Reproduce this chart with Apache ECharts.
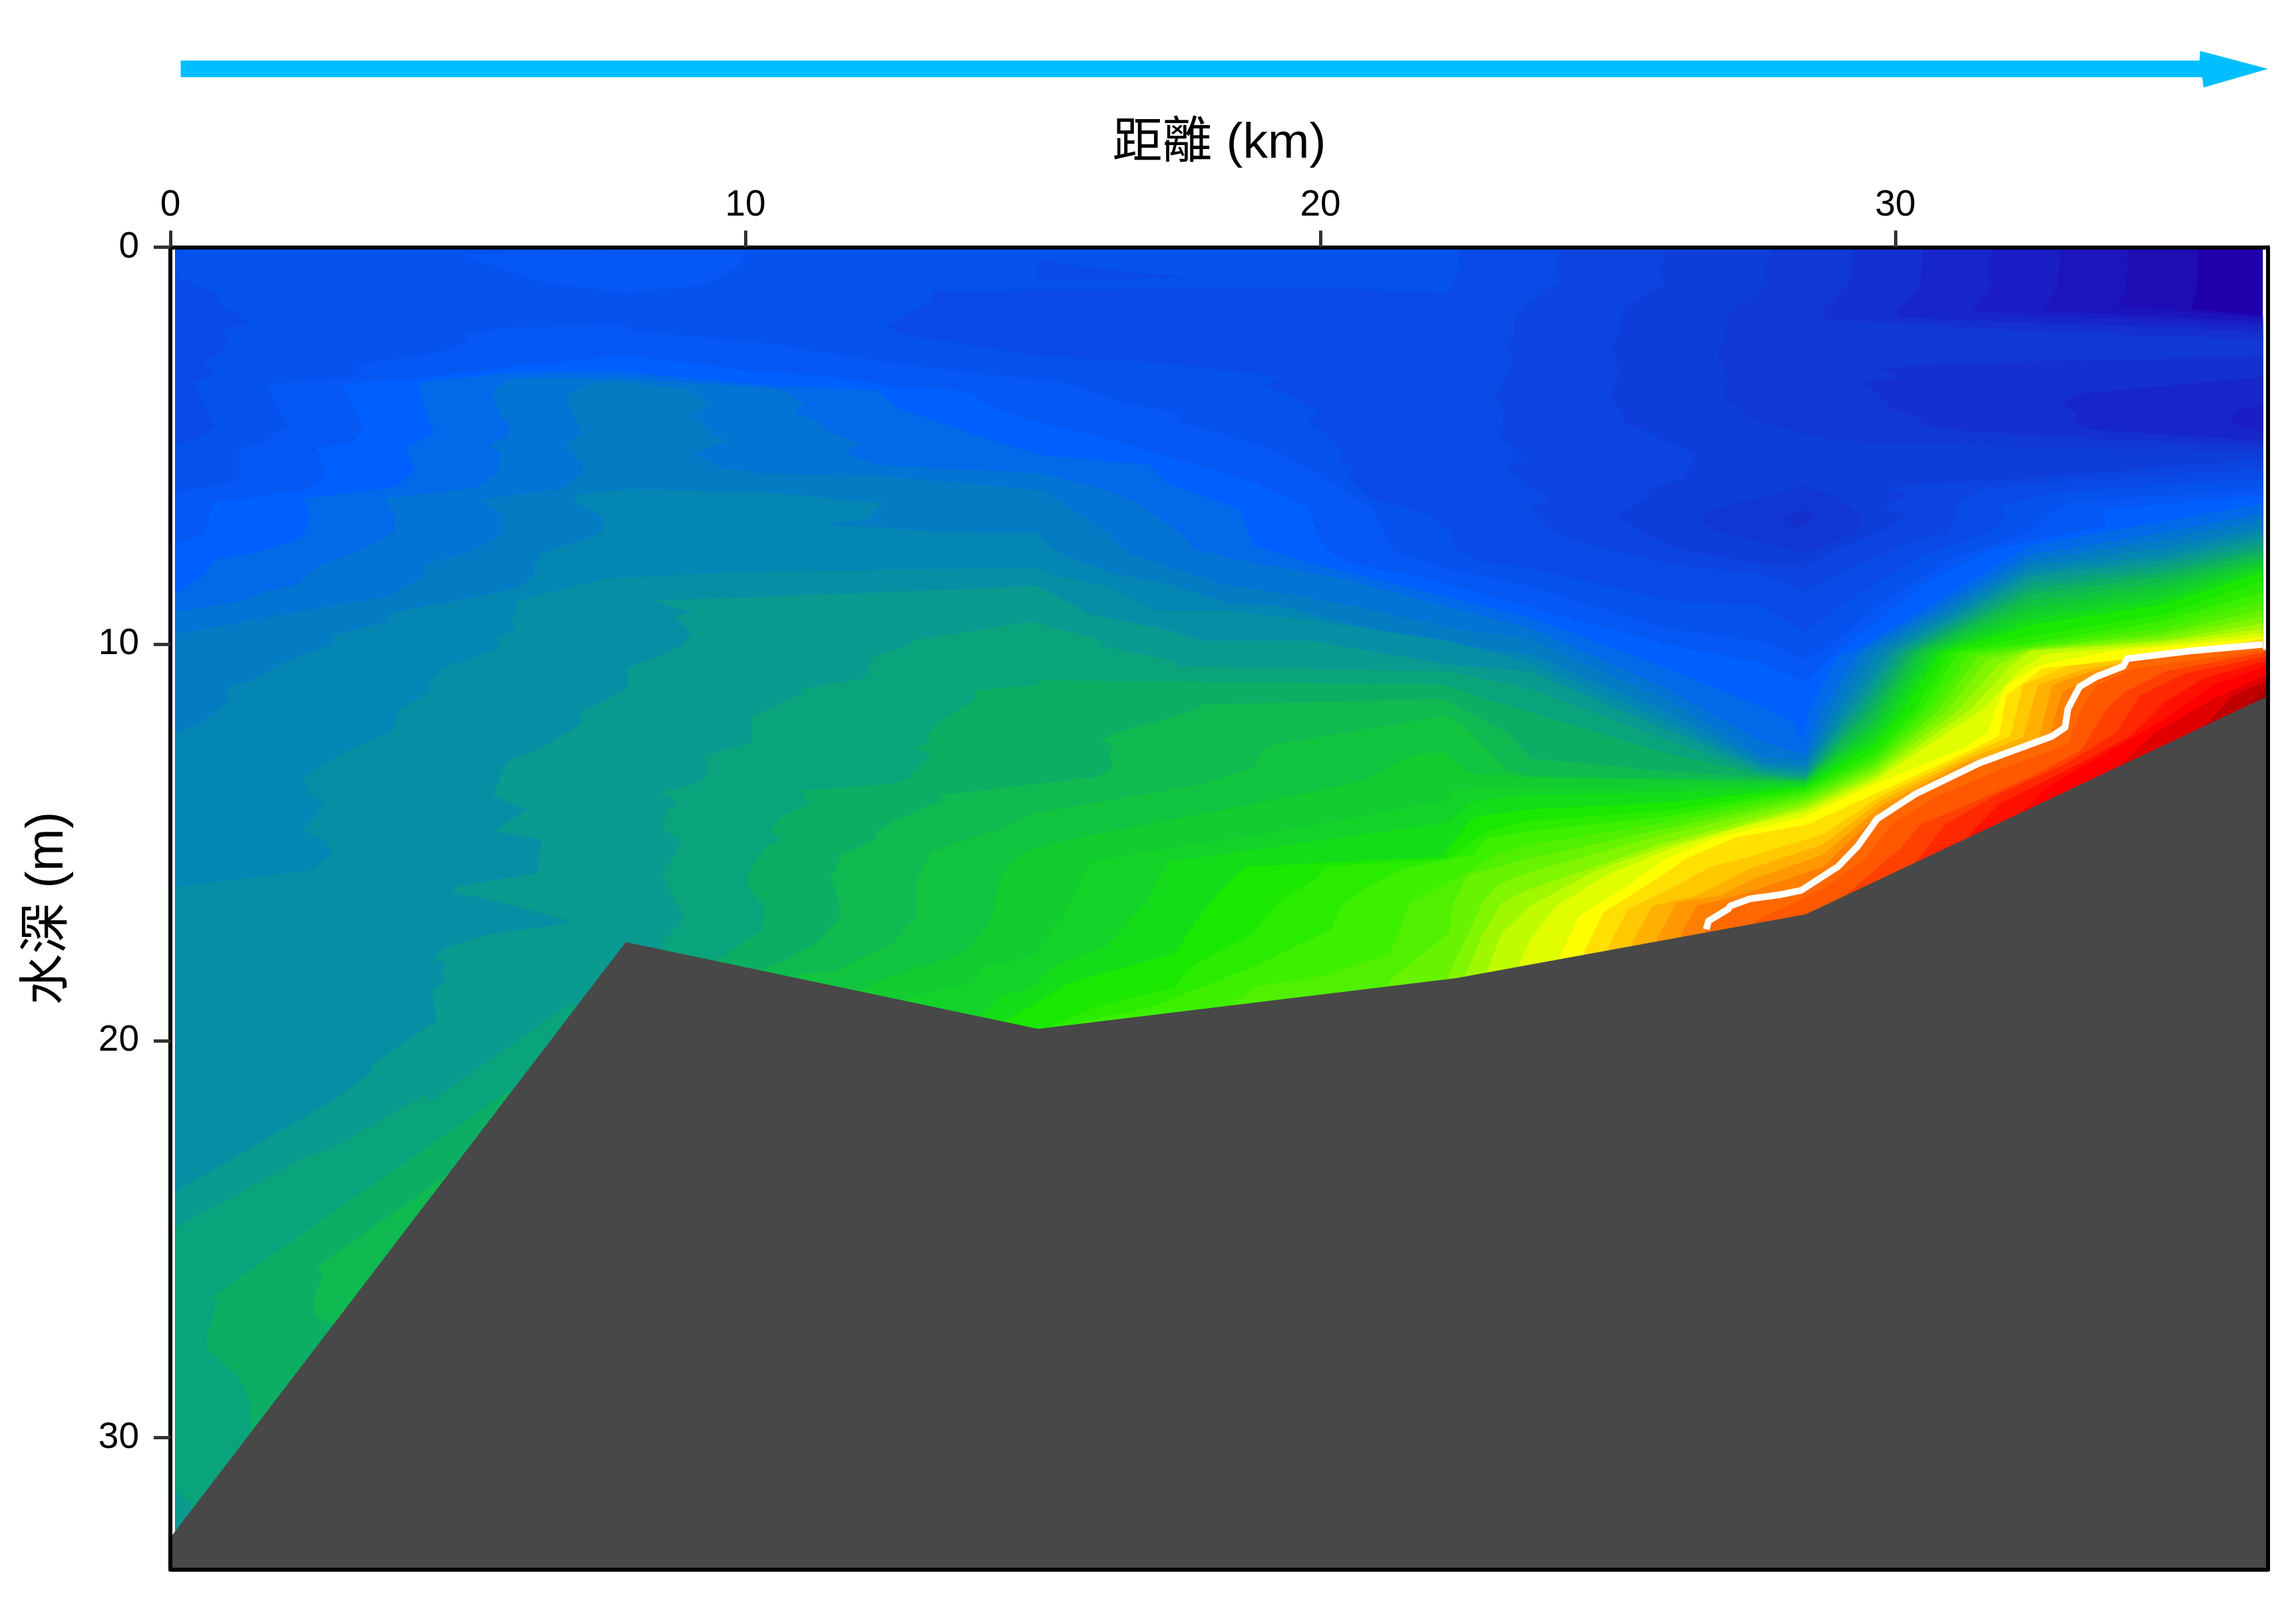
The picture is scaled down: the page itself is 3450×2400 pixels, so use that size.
<!DOCTYPE html>
<html>
<head>
<meta charset="utf-8">
<title>距離 水深</title>
<script src="https://cdn.jsdelivr.net/npm/echarts@6/dist/echarts.min.js"></script>
<style>
html, body { margin: 0; padding: 0; background: #ffffff; }
#main { width: 3450px; height: 2400px; }
</style>
</head>
<body>
<div id="main"></div>
<script>
var kmTicks = [ 0, 10, 20, 30 ];
var depthTicks = [ 0, 10, 20, 30 ];
var kmMax = 36.48;
var depthMax = 33.32;
var fillLeft = 0.09;
var fillRight = 36.39;

// sea floor outline, km / m
var seaFloor = [ [0,32.52],[7.92,17.51],[15.09,19.7],[22.36,18.42],[28.44,16.81],[36.48,11.31] ];
// white contour over the red water
var whiteLine = [ [26.71,17.19],[26.75,16.98],[27.09,16.68],[27.13,16.6],[27.47,16.42],[27.98,16.32],[28.36,16.21],[29.0,15.61],[29.34,15.1],[29.68,14.41],[30.36,13.77],[31.46,13.0],[32.73,12.32],[32.95,12.1],[33.0,11.63],[33.2,11.08],[33.5,10.82],[33.96,10.56],[34.03,10.37],[35.1,10.18],[36.39,10.01] ];

// isolines, shallow / low value first
var iso01 = [ [35.26,0],[35.24,1.1],[35.15,1.56],[36.39,1.73] ];
var iso02 = [ [34.05,0],[34.02,1.04],[33.88,1.47],[36.39,1.78] ];
var iso03 = [ [32.86,0],[32.82,1.04],[32.56,1.6],[36.39,1.87] ];
var iso04 = [ [31.67,0],[31.63,1.04],[31.3,1.64],[36.39,1.98] ];
var iso05 = [ [30.48,0],[30.42,1.04],[30.02,1.6],[30.06,1.77],[36.39,2.12] ];
var iso06 = [ [29.3,0],[29.2,0.87],[28.9,1.39],[28.7,1.64],[28.8,1.81],[32.3,2.1],[36.39,2.33] ];
var iso07 = [ [27.9,0],[27.72,0.53],[27.78,0.96],[27.13,1.64],[27.03,2.24],[26.92,2.67],[27.07,3.27],[27,3.78],[27.64,4.42],[28.49,4.76],[29.6,4.95],[31.3,5.0],[33.5,5.08],[36.39,5.15] ];
var iso08 = [ [26.03,0],[25.9,0.57],[25.98,0.9],[25.26,1.56],[25.2,2.24],[25.05,2.5],[25.16,2.84],[25.18,3.27],[25.01,3.78],[25.22,4.12],[25.26,4.38],[25.77,4.72],[26.54,5.24],[26.32,5.83],[25.6,6.13],[25.77,6.26],[25.14,6.77],[25.6,7.19],[26.2,7.6],[27.7,8.0],[28.43,8.05],[29,7.6],[29.72,7.19],[30.2,6.8],[29.76,6.52],[30.27,6.26],[29.85,6.05],[32.99,5.75],[36.39,5.34] ];
var iso09 = [ [24.24,0],[24.07,0.53],[24.2,0.87],[23.65,1.34],[23.37,1.81],[23.37,2.24],[23.2,2.54],[23.37,2.8],[23.05,3.74],[23.2,4.12],[23.16,4.81],[23.58,5.28],[23.25,5.58],[23.55,5.92],[23.65,6.05],[24,6.35],[23.65,6.6],[24.07,7.19],[24.9,7.6],[26.2,8.0],[27.7,8.25],[28.43,8.68],[29.2,8.1],[30.14,7.5],[30.87,7.19],[31.08,6.77],[31.04,6.43],[31.5,6.09],[32.31,5.96],[36.39,5.58] ];
var iso10 = [ [22.4,0],[22.4,0.62],[22.2,1.13],[20.1,1.03],[13.23,1.09],[13.23,1.34],[12.47,1.98],[12.72,2.2],[15.1,2.75],[16.97,2.88],[19.32,3.27],[19,3.52],[19.5,3.74],[19.97,4.17],[19.77,4.42],[20.03,4.64],[20.4,5.15],[20.3,5.36],[20.6,5.53],[20.5,5.83],[20.9,6.35],[21.8,6.69],[22.3,7.19],[22.3,7.53],[22.48,7.7],[22.9,7.96],[23.65,8.08],[26,8.9],[27.71,9.05],[28.43,9.7],[29,9.07],[30.44,7.79],[31.63,7.19],[31.93,6.77],[31.8,6.52],[32.82,6.18],[36.39,5.83] ];
var iso11 = [ [0.09,6.19],[1.2,5.88],[1.2,5.06],[1.62,4.93],[2.04,4.5],[1.88,4.04],[1.69,3.44],[3.15,3.27],[3.32,3.14],[3.24,2.97],[4.59,2.67],[5.19,2.41],[5.1,2.2],[5.87,2.03],[7.9,1.92],[7.94,2.09],[10.35,2.41],[11.44,2.67],[12.64,2.94],[14.08,3.18],[15.52,3.4],[16.63,3.95],[17.56,4.17],[17.56,4.42],[18.24,4.68],[19.26,5.15],[19.6,5.45],[20.19,5.92],[20.91,6.6],[21.1,7.19],[21.3,7.7],[22.2,8.1],[23.65,8.56],[26,9.6],[27.71,9.95],[28.43,10.4],[28.91,10.0],[29.59,9.15],[30.95,7.87],[32.31,7.19],[32.65,6.77],[32.99,6.43],[36.39,6.09] ];
var iso12 = [ [0.09,7.48],[0.6,7.19],[0.73,6.43],[2.39,6.09],[2.72,5.75],[2.55,5.06],[3.15,4.94],[3.36,4.55],[3.11,3.87],[2.98,3.44],[4.3,3.31],[5.87,3.01],[7.9,2.73],[10.35,3.14],[11.62,3.27],[12.64,3.52],[13.83,3.61],[14.33,4.04],[15.1,4.42],[15.95,4.68],[17.05,5.15],[18.83,5.92],[19.77,6.52],[19.94,7.19],[20.1,7.6],[20.5,7.96],[21.72,8.3],[23.65,9.07],[26,10.0],[27.71,10.48],[28.43,10.96],[29.08,10.09],[30.69,8.3],[31.72,7.6],[33.67,7.0],[33.58,6.6],[36.39,6.25] ];
var iso13 = [ [0.09,8.73],[0.56,8.3],[0.77,7.87],[1.45,7.7],[2.2,7.37],[2.34,7.19],[2.43,6.77],[2.34,6.34],[3.91,6.04],[4.25,5.66],[4.08,5.06],[4.59,4.68],[4.38,3.95],[4.34,3.4],[5.87,3.17],[7.9,3.14],[10.35,3.48],[12.3,3.6],[12.68,4.08],[14.33,4.89],[15.18,5.24],[17.05,5.49],[17.3,5.92],[18.58,6.6],[18.75,7.19],[18.83,7.53],[19.85,7.96],[21.72,8.64],[23.65,9.33],[26,10.6],[27.71,11.6],[28.25,12.0],[28.37,12.49],[28.5,11.65],[29.0,10.3],[29.25,10.2],[32.34,7.52],[34.65,6.91],[36.39,6.46] ];
var iso14 = [ [0.09,9.2],[1.28,8.9],[1.62,8.68],[2.21,8.5],[2.55,8.04],[3.15,7.74],[3.9,7.19],[3.9,6.77],[3.73,6.34],[5.32,6.06],[5.7,5.66],[5.74,5.19],[5.53,4.98],[5.87,4.76],[5.91,4.59],[5.65,3.95],[5.61,3.61],[5.87,3.31],[7.9,3.3],[10.35,3.55],[10.68,3.61],[11.02,3.95],[10.85,4.17],[11.28,4.42],[11.45,4.64],[12.04,4.94],[11.7,5.15],[12.3,5.49],[15.18,5.7],[16.29,6.13],[16.79,6.43],[17.55,7.19],[17.8,7.6],[18.83,7.96],[19.85,8.2],[20.53,8.4],[22.23,9.07],[23.65,9.6],[26,11.1],[27.71,12.49],[28.43,12.77],[28.72,11.65],[29.37,10.2],[32.34,7.75],[34.65,7.19],[36.39,6.71] ];
var iso15 = [ [0.09,9.75],[1.67,9.33],[2.89,9.0],[3.83,8.8],[4.42,8.25],[4.46,7.96],[5.28,7.66],[5.78,7.19],[5.78,6.77],[5.44,6.34],[6.8,6.09],[7.15,5.7],[7.19,5.5],[6.84,4.98],[7.18,4.72],[6.93,4.04],[6.93,3.7],[7.35,3.42],[7.95,3.4],[9.09,3.61],[9.35,3.95],[9.13,4.25],[9.52,4.81],[9.73,4.85],[9.09,5.19],[9.6,5.58],[10.35,5.7],[12.3,5.75],[15.18,6.13],[15.6,6.52],[16.29,7.19],[16.63,7.7],[17.14,7.92],[18.24,8.47],[19.68,8.8],[20.71,9.07],[22.23,9.58],[23.65,9.88],[26,11.4],[27.71,12.85],[28.43,12.94],[28.87,11.65],[29.52,10.2],[32.34,7.91],[34.65,7.38],[36.39,6.88] ];
var iso16 = [ [0.09,12.23],[0.56,11.98],[1.03,11.38],[0.98,11.04],[1.45,10.91],[1.88,10.52],[2.81,10.01],[2.81,9.79],[3.74,9.45],[3.83,9.2],[4.85,8.94],[6.04,8.6],[6.33,8.25],[6.33,7.96],[6.46,7.7],[7.52,7.19],[7.52,6.78],[7.1,6.5],[7.01,6.26],[7.99,6.09],[10.35,6.18],[12.38,6.45],[12.13,6.85],[11.36,6.98],[13.65,7.19],[15.05,7.2],[15.44,7.7],[16.46,8.26],[17.22,8.43],[18.41,8.98],[19.26,9.03],[20.53,9.5],[22.23,10.0],[23.65,10.26],[26,11.7],[27.71,13.0],[28.43,13.08],[29.02,11.65],[29.68,10.2],[32.34,8.05],[34.65,7.58],[36.39,7.05] ];
var iso17 = [ [0.09,16.12],[2.47,15.7],[2.81,15.27],[2.68,14.93],[2.3,14.71],[2.68,14.03],[2.43,13.77],[2.3,13.4],[2.98,12.75],[3.83,12.24],[4,11.64],[4.51,11.21],[4.51,10.95],[4.76,10.61],[5.7,10.1],[5.7,9.8],[5.99,9.67],[5.95,9.41],[6.04,8.9],[7.65,8.34],[10.35,8.17],[15.05,8.08],[15.44,8.3],[16.29,8.55],[17.14,9.15],[18.24,9.15],[19.68,9.37],[22.23,9.92],[23.65,10.48],[26,11.95],[27.71,13.07],[28.43,13.16],[29.13,11.65],[29.85,10.2],[32.34,8.19],[34.65,7.75],[36.39,7.19] ];
var iso18 = [ [0.09,23.8],[2.89,21.45],[3.49,20.8],[3.53,20.6],[4.25,19.85],[4.63,19.5],[4.55,18.73],[4.8,18.48],[4.72,18.3],[4.8,18.05],[4.59,17.92],[4.76,17.66],[5.53,17.32],[7.01,17.02],[5.87,16.55],[4.93,16.25],[4.93,16.13],[6.38,15.78],[6.46,14.93],[5.65,14.71],[6.2,14.16],[5.61,13.82],[5.78,13.17],[5.91,12.92],[6.5,12.58],[7.14,12.02],[7.14,11.72],[7.95,11.12],[7.95,10.61],[8.92,10.05],[9.05,9.71],[8.79,9.32],[9.09,9.22],[8.41,8.9],[10.35,8.81],[15.09,8.54],[15.78,9.07],[15.95,9.24],[17.14,9.58],[17.98,9.92],[19.85,9.92],[22.23,10.52],[23.65,10.69],[26,12.15],[27.71,13.15],[28.43,13.25],[29.25,11.65],[29.97,10.2],[32.34,8.3],[34.65,7.89],[36.39,7.33] ];
var iso19 = [ [0.09,24.7],[2.39,22.9],[2.81,22.7],[4.42,21.37],[4.5,21.55],[5.44,20.6],[6.95,19.05],[7.5,19.5],[8.58,18.5],[8.58,17.49],[8.92,16.9],[8.75,16.42],[8.54,15.83],[8.88,15.01],[8.58,14.67],[8.62,14.2],[8.84,14.03],[8.54,13.73],[9.26,13.47],[9.35,13.17],[9.3,12.79],[10.11,12.49],[10.11,11.85],[10.35,11.68],[10.98,11.25],[10.98,11.12],[12.08,10.86],[12.25,10.31],[12.89,10.01],[12.89,9.92],[14.97,9.43],[16.2,9.92],[16.2,10.05],[17.48,10.44],[17.52,10.56],[22.23,10.69],[23.65,11.12],[26,12.4],[27.71,13.25],[28.43,13.33],[29.36,11.65],[30.1,10.2],[32.34,8.47],[34.65,8.03],[36.39,7.47] ];
var iso20 = [ [1.41,29.85],[1.37,29.0],[1.2,28.5],[0.65,27.8],[0.64,27.44],[0.82,26.6],[0.73,26.46],[2.55,24.6],[5.91,21.24],[6.5,21.5],[9.2,18.5],[9.43,18.0],[9.6,17.88],[10.28,17.2],[10.35,16.68],[10.07,16.17],[10.03,15.83],[10.35,15.1],[10.64,14.93],[10.44,14.71],[10.6,14.37],[11.1,14.03],[10.98,13.7],[12.55,13.52],[12.85,13.39],[12.89,13.26],[13.23,12.83],[12.93,12.62],[13.19,12.49],[13.19,12.23],[13.44,11.89],[13.99,11.42],[14.03,11.16],[15.05,11.04],[15.14,10.91],[22.14,11.02],[22.9,11.38],[23.65,11.72],[26,12.75],[27.71,13.3],[28.43,13.39],[29.48,11.65],[30.2,10.2],[32.34,8.61],[34.65,8.17],[36.39,7.61] ];
var iso21 = [ [2.89,27.19],[2.55,26.95],[2.47,26.6],[2.64,25.93],[2.55,25.71],[4.8,23.38],[6,23],[10,18.6],[10.34,18.18],[10.68,17.97],[11.24,17.54],[11.66,16.85],[11.62,16.42],[11.49,15.91],[11.7,15.31],[12.25,14.93],[12.3,14.71],[12.59,14.46],[13.4,13.95],[13.4,13.81],[16.12,13.35],[16.37,13.09],[16.33,12.75],[16.41,12.58],[16.2,12.41],[16.46,12.24],[17.9,11.63],[17.9,11.53],[22.14,11.38],[23.24,12.23],[23.65,12.88],[26,13.2],[28.43,13.42],[29.6,11.65],[30.3,10.2],[32.34,8.75],[34.65,8.3],[36.39,7.72] ];
var iso22 = [ [10.7,18.6],[10.94,18.33],[11.62,18.22],[11.75,18.09],[12.55,17.54],[12.98,16.85],[12.98,15.91],[13.23,15.23],[14.5,14.63],[14.93,14.29],[17.98,13.52],[18.83,13.09],[18.92,12.83],[19.17,12.53],[22.23,11.8],[22.48,12.06],[23.24,13.17],[23.65,13.33],[26,13.38],[28.43,13.44],[29.64,11.9],[29.72,11.65],[30.4,10.2],[32.34,8.92],[34.65,8.44],[36.39,7.83] ];
var iso23 = [ [11.9,18.9],[12.21,18.56],[12.89,18.22],[13.82,17.79],[14.29,16.94],[14.42,15.91],[14.76,15.31],[15.35,15.01],[19.68,13.78],[20.79,13.43],[21.55,12.83],[22.14,12.7],[22.57,13.26],[23.65,13.36],[28.43,13.47],[29.64,12.0],[29.8,11.65],[30.5,10.2],[32.34,9.09],[34.65,8.58],[36.39,7.91] ];
var iso24 = [ [12.5,19.3],[12.89,18.9],[13.9,18.56],[14.16,18.13],[15.0,17.88],[15.52,16.85],[15.99,15.48],[19.68,14.63],[22.23,13.94],[22.31,13.69],[23.65,13.64],[28.43,13.5],[29.64,12.15],[29.9,11.65],[30.6,10.2],[32.34,9.23],[34.65,8.72],[36.39,8.0] ];
var iso25 = [ [14,19.5],[14.42,18.9],[15.0,18.65],[15.35,18.14],[16.29,17.62],[16.96,16.5],[17.39,15.48],[22.23,14.5],[22.65,13.95],[23.65,13.8],[26,13.75],[28.43,13.55],[29.64,12.3],[29.99,11.65],[30.7,10.2],[32.34,9.37],[34.65,8.86],[36.39,8.08] ];
var iso26 = [ [14.51,19.5],[14.93,19.16],[15.61,18.56],[17.47,17.79],[17.81,17.02],[18.24,16.25],[18.7,15.61],[22.14,15.36],[22.23,15.14],[22.65,14.37],[23.65,14.16],[26,14.0],[28.43,13.61],[29.64,12.5],[30.14,11.65],[30.8,10.2],[32.34,9.53],[34.65,9.0],[36.39,8.19] ];
var iso27 = [ [15.26,19.68],[16.21,19.08],[17.47,18.65],[17.73,18.14],[18.83,17.28],[19.26,16.51],[19.93,15.91],[20.1,15.61],[22.23,15.4],[22.9,14.72],[23.65,14.46],[26,14.2],[28.43,13.67],[29.64,12.7],[30.33,11.65],[30.95,10.2],[32.34,9.81],[34.65,9.26],[36.39,8.42] ];
var iso28 = [ [15.77,19.54],[17.05,19.16],[18.83,18.13],[20.19,17.2],[20.36,16.6],[20.78,16.17],[21.46,15.65],[22.65,15.31],[22.9,14.9],[23.65,14.71],[26,14.35],[28.43,13.72],[29.64,12.85],[30.47,11.65],[31.1,10.2],[32.34,9.98],[34.65,9.42],[36.39,8.7] ];
var iso29 = [ [18.4,19.2],[18.83,18.65],[19.93,18.4],[21.2,17.79],[21.38,17.2],[21.55,16.51],[22.14,16.08],[23.07,15.31],[23.65,15.06],[26,14.5],[28.43,13.8],[29.64,12.95],[30.6,11.65],[31.3,10.25],[32.34,10.04],[34.65,9.59],[36.39,8.92] ];
var iso30 = [ [21.2,18.7],[21.2,18.48],[22.23,17.28],[22.31,16.51],[22.57,15.83],[23.65,15.4],[26,14.65],[28.43,13.89],[29.64,13.05],[30.75,11.65],[31.45,10.3],[32.34,10.09],[34.65,9.73],[36.39,9.14] ];
var iso31 = [ [22.2,18.6],[22.23,18.31],[22.57,17.3],[22.82,16.51],[23.07,16.08],[23.65,15.74],[26,14.8],[28.43,13.97],[29.64,13.15],[30.91,11.65],[31.6,10.4],[32.34,10.12],[34.65,9.81],[36.39,9.31] ];
var iso32 = [ [22.48,18.5],[22.82,17.3],[23.16,16.51],[23.65,16.17],[26,15],[28.43,14.06],[29.64,13.25],[31.1,11.65],[31.8,10.5],[32.34,10.15],[34.65,9.9],[36.39,9.48] ];
var iso33 = [ [22.85,18.4],[23.16,17.28],[23.65,16.6],[24.8,15.7],[26,15.1],[28.43,14.14],[29.64,13.35],[31.3,11.65],[32.0,10.55],[32.34,10.18],[34.65,9.95],[36.39,9.62] ];
var iso34 = [ [23.38,18.3],[23.65,17.45],[24.1,16.6],[25,15.8],[26,15.2],[27.2,14.65],[28.43,14.23],[29.64,13.43],[31.53,11.65],[32.2,10.6],[32.6,10.25],[34.65,10.01],[36.39,9.73] ];
var iso35 = [ [24.12,18.2],[24.17,17.88],[24.5,16.85],[25.35,16.08],[26.03,15.4],[26.87,14.88],[28.4,14.37],[29.64,13.53],[31.12,12.66],[31.6,12.25],[31.74,11.65],[31.9,11.1],[32.0,10.98],[32.49,10.54],[33,10.38],[33.88,10.15],[34.65,10.07],[36.39,9.84] ];
var iso36 = [ [24.55,18.1],[24.59,17.75],[24.92,16.77],[25.86,15.91],[26.37,15.4],[27.22,14.88],[28.49,14.54],[29.76,13.7],[31.21,12.75],[31.8,12.32],[31.93,11.3],[32.56,10.61],[34.69,10.27],[36.39,9.87] ];
var iso37 = [ [24.98,18.0],[25.01,17.62],[25.35,16.68],[26.2,16.08],[26.79,15.61],[27.47,15.36],[28.74,14.8],[29.76,13.82],[31.21,12.83],[32.0,12.32],[32.22,11.03],[32.99,10.56],[34.69,10.28],[36.39,9.9] ];
var iso38 = [ [25.4,17.9],[25.43,17.5],[25.77,16.6],[26.54,16.34],[27.47,15.66],[28.74,15.05],[29.76,13.94],[31.21,12.92],[32.22,12.36],[32.48,11.03],[33.24,10.65],[34.69,10.3],[36.39,9.93] ];
var iso39 = [ [25.84,17.8],[25.86,17.41],[26.2,16.5],[26.96,16.34],[27.47,15.95],[28.74,15.31],[29.76,14.07],[31.21,13.0],[32.48,12.45],[32.73,11.03],[33.41,10.69],[34.69,10.32],[36.39,9.95] ];
var iso40 = [ [26.26,17.7],[26.28,17.28],[26.54,16.6],[27.47,16.25],[28.74,15.61],[29.76,14.2],[31.21,13.09],[32.65,12.49],[32.9,11.2],[33.58,10.74],[34.69,10.35],[36.39,9.97] ];
var iso41 = whiteLine;
var iso42 = [ [27.56,17.2],[27.56,16.98],[28.74,16.17],[29.42,15.48],[29.93,14.54],[30.69,13.86],[31.8,13.17],[32.99,12.53],[33.24,11.63],[33.5,11.03],[34.18,10.61],[36.45,10.14] ];
var iso43 = [ [29.16,16.7],[29.16,16.29],[30.1,15.14],[30.44,14.54],[31.29,14.03],[32.48,13.26],[33.24,12.66],[33.67,11.63],[34.0,11.2],[34.69,10.69],[36.45,10.2] ];
var iso44 = [ [30.36,15.9],[30.36,15.48],[30.87,14.54],[31.8,13.77],[32.99,13.0],[33.84,12.23],[34.26,11.29],[35.03,10.74],[36.45,10.31] ];
var iso45 = [ [31.29,15.2],[31.29,14.8],[31.8,14.03],[32.99,13.17],[34.09,12.32],[34.69,11.46],[35.37,10.86],[36.45,10.42] ];
var iso46 = [ [32.14,14.7],[32.14,14.29],[32.73,13.52],[33.67,12.75],[34.69,11.89],[35.53,11.03],[36.45,10.56] ];
var iso47 = [ [33.84,13.5],[33.84,13.13],[34.52,12.23],[35.53,11.38],[36.45,10.78] ];
var iso48 = [ [35.37,12.4],[35.37,12.06],[35.88,11.29],[36.45,10.95] ];
var iso49 = [ [36.13,11.9],[36.13,11.55],[36.45,11.1] ];

// closed pockets where the value turns back
var pocketA = [ [29.68,3.05],[31.29,2.91],[33.4,2.86],[36.39,2.75],[36.39,5.02],[33.5,4.82],[31.29,4.64],[30.53,4.5],[30.36,4.25],[29.93,4.08],[29.72,3.74],[29.43,3.4],[30.1,3.27] ];
var pocketB = [ [36.39,3.27],[33.16,3.7],[32.9,3.95],[33.16,4.2],[33.07,4.38],[33.4,4.6],[36.39,4.88] ];
var pocketC = [ [36.39,3.95],[35.97,4.12],[35.81,4.34],[35.92,4.5],[36.39,4.64] ];
var pocketV = [ [26.58,6.82],[27.05,6.5],[27.65,6.33],[28.36,6],[29,6.3],[29.42,6.82],[29.3,7.2],[28.43,7.74],[27.6,7.4],[26.9,7.2] ];
var pocketVInner = [ [28.07,6.85],[28.4,6.6],[28.6,6.82],[28.3,7.1] ];
var patchLeft = [ [0.09,0.74],[0.86,1.21],[0.78,1.34],[1.37,1.9],[0.86,2.08],[1.03,2.45],[0.78,2.75],[0.52,2.84],[0.78,3.18],[0.39,3.39],[0.78,4.5],[0.52,4.8],[0.09,4.98] ];
var patchTop = [ [5.1,0.23],[6.42,0.87],[7.9,1.17],[9.26,0.96],[9.94,0.45],[9.96,0],[5.87,0.1] ];
var patchLens = [ [15.1,0.32],[15.1,0.85],[17.74,0.77],[16,0.5] ];
var patchCorner = [ [0.09,31.37],[0.35,31.63],[0.45,32.2],[0.09,32.7] ];

var contours = [ iso01,iso02,iso03,iso04,iso05,iso06,iso07,iso08,iso09,iso10,iso11,iso12,iso13,iso14,iso15,iso16,iso17,iso18,iso19,iso20,iso21,iso22,iso23,iso24,iso25,iso26,iso27,iso28,iso29,iso30,iso31,iso32,iso33,iso34,iso35,iso36,iso37,iso38,iso39,iso40,iso41,iso42,iso43,iso44,iso45,iso46,iso47,iso48,iso49 ];
var contourColors = [ '#1e0cb4','#1c14bc','#1a1ec4','#1726c8','#1430ce','#1038d6','#0e3eda','#0c44e0','#0a4ae6','#0552ee','#0558f4','#0060ff','#006ae8','#0474d4','#047cc4','#0486b4','#068fa4','#099a90','#0aa47c','#0cae64','#0fba50','#10c440','#12cc30','#12d428','#14dc18','#1ae800','#2aec00','#3cf000','#50f000','#68f400','#80f600','#a0f800','#c0fc00','#e0fe00','#ffff00','#ffe000','#ffc800','#ffb000','#ff9800','#ff8000','#ff6800','#ff5800','#ff4000','#ff2800','#ff1000','#ff0000','#e00000','#c00000','#a80000' ];

function closeContour(line) {
	var first = line[0];
	var last = line[line.length - 1];
	var points = line.concat([ [ last[0], depthMax ] ]);
	if (first[1] === 0) {
		points.push([ fillLeft, depthMax ], [ fillLeft, 0 ]);
	} else {
		points.push([ first[0], depthMax ]);
	}
	return points;
}

var layers = [ { points : [ [ fillLeft, 0 ], [ fillRight, 0 ], [ fillRight, depthMax ], [ fillLeft, depthMax ] ], fill : '#2000ac' } ];
contours.forEach(function(line, i) {
	layers.push({ points : closeContour(line), fill : contourColors[i] });
	if (line === iso06) {
		layers.push({ points : pocketA, fill : '#1430ce' }, { points : pocketB, fill : '#1726c8' }, { points : pocketC, fill : '#1a1ec4' });
	}
	if (line === iso07) {
		layers.push({ points : pocketV, fill : '#1036d4' }, { points : pocketVInner, fill : '#1430cc' });
	}
	if (line === iso10) {
		layers.push({ points : patchLeft, fill : '#0a4ae6' }, { points : patchTop, fill : '#0558f4' }, { points : patchLens, fill : '#0a4ae6' });
	}
	if (line === iso19) {
		layers.push({ points : patchCorner, fill : '#099a90' });
	}
});
layers.push({ points : seaFloor.concat([ [ kmMax, depthMax ], [ 0, depthMax ] ]), fill : '#484848' });

var fontFamily = '"Liberation Sans", "Noto Sans CJK TC", sans-serif';
var chart = echarts.init(document.getElementById('main'), null, { renderer : 'canvas' });
chart.setOption({
	animation : false,
	backgroundColor : '#ffffff',
	grid : { left : 256, top : 371.5, width : 3152, height : 1987, outerBoundsMode : 'none' },
	xAxis : [ {
		type : 'value',
		position : 'top',
		min : 0,
		max : kmMax,
		z : 10,
		name : '距離 (km)',
		nameLocation : 'middle',
		nameGap : 118,
		nameTextStyle : { fontFamily : fontFamily, fontSize : 75, color : '#000' },
		splitLine : { show : false },
		axisLine : { onZero : false, lineStyle : { color : '#000', width : 6 } },
		axisTick : { customValues : kmTicks, length : 25, lineStyle : { color : '#333', width : 5 } },
		axisLabel : { customValues : kmTicks, margin : 35, fontFamily : fontFamily, fontSize : 55, color : '#000' }
	}, {
		type : 'value',
		position : 'bottom',
		min : 0,
		max : kmMax,
		z : 10,
		splitLine : { show : false },
		axisLine : { show : true, onZero : false, lineStyle : { color : '#000', width : 6 } },
		axisTick : { show : false },
		axisLabel : { show : false }
	} ],
	yAxis : [ {
		type : 'value',
		position : 'left',
		inverse : true,
		min : 0,
		max : depthMax,
		z : 10,
		name : '水深 (m)',
		nameLocation : 'middle',
		nameGap : 145,
		nameRotate : 90,
		nameTextStyle : { fontFamily : fontFamily, fontSize : 77, color : '#000' },
		splitLine : { show : false },
		axisLine : { show : true, onZero : false, lineStyle : { color : '#000', width : 6 } },
		axisTick : { show : true, customValues : depthTicks, length : 25, lineStyle : { color : '#333', width : 5 } },
		axisLabel : { customValues : depthTicks, margin : 47, fontFamily : fontFamily, fontSize : 55, color : '#000' }
	}, {
		type : 'value',
		position : 'right',
		inverse : true,
		min : 0,
		max : depthMax,
		z : 10,
		splitLine : { show : false },
		axisLine : { show : true, onZero : false, lineStyle : { color : '#000', width : 6 } },
		axisTick : { show : false },
		axisLabel : { show : false }
	} ],
	series : [ {
		type : 'custom',
		coordinateSystem : 'cartesian2d',
		clip : true,
		silent : true,
		data : layers.map(function(layer, i) {
			return [ i ];
		}),
		encode : { x : 0, y : 0 },
		renderItem : function(params, api) {
			var layer = layers[params.dataIndex];
			return {
				type : 'polygon',
				shape : { points : layer.points.map(function(p) {
					return api.coord(p);
				}) },
				style : { fill : layer.fill }
			};
		}
	}, {
		type : 'line',
		data : whiteLine,
		showSymbol : false,
		silent : true,
		lineStyle : { color : '#ffffff', width : 10, join : 'round' }
	} ],
	graphic : [ {
		type : 'polygon',
		z : 20,
		shape : { points : [ [271.5,91],[3305,91],[3306,76.5],[3408,103.5],[3311,131.6],[3309,116],[271.5,116] ] },
		style : { fill : '#00bfff' }
	} ]
});
</script>
</body>
</html>
